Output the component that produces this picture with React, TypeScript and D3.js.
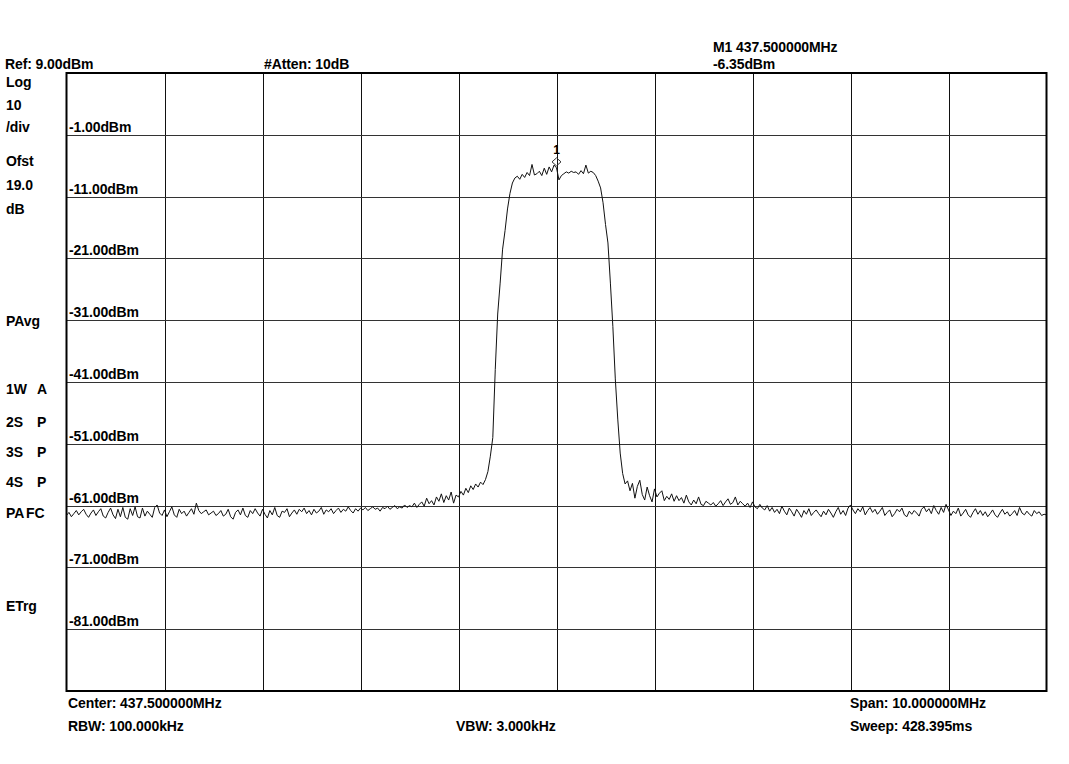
import React from "react";
import * as d3 from "d3";

// sweep: 401 points across the span
const centerMHz = 437.5;
const spanMHz = 10;
const refDbm = 9;
const dbPerDiv = 10;

const levelTicks = [-1, -11, -21, -31, -41, -51, -61, -71, -81];

// trace values in dBm, split by sweep region
const noiseLeft = [
  -62.6, -62.1, -62.8, -62.3, -61.8, -62.5, -62.0, -61.6, -62.4, -62.9, -62.2, -61.7, -62.6, -62.0, -61.5, -62.7, -63.0, -62.1, -61.4, -62.5,
  -63.1, -61.6, -62.8, -61.3, -62.9, -63.2, -61.5, -62.6, -61.2, -62.8, -63.0, -61.4, -62.7, -61.9, -62.4, -62.9, -61.3, -60.9, -62.2, -62.6,
  -61.7, -62.8, -62.0, -61.2, -62.5, -62.9, -61.6, -62.3, -61.9, -62.7, -62.1, -61.5, -62.4, -60.6, -61.8, -62.3, -62.0, -61.7, -62.5, -62.2,
  -61.9, -62.6, -62.3, -61.8, -62.7, -62.4, -61.6, -62.8, -63.2, -62.1, -61.7, -62.5, -61.4, -62.6, -62.9, -61.8, -62.3, -61.5, -62.2, -62.7,
  -61.6, -62.4, -63.0, -61.8, -62.5, -61.3, -62.6, -62.9, -61.9, -62.1, -61.5, -62.8, -62.2, -61.7, -62.4, -61.6, -62.0, -61.4, -62.3, -61.8,
  -62.5, -61.6, -62.2, -61.9, -61.3, -62.4, -61.7, -62.0, -61.5, -62.3, -61.8, -61.4, -62.1, -61.6, -61.9, -61.2, -61.8, -62.2, -61.5, -61.9,
  -61.4, -61.7, -61.3, -61.8, -61.5, -61.2, -61.6, -61.4, -61.9, -61.3, -61.5, -61.1, -61.6, -61.3, -61.0, -61.5, -61.2, -61.4, -60.9, -61.3,
  -61.0, -61.2, -60.6, -61.3, -60.8, -60.4, -61.1, -59.8, -60.7, -60.2, -60.9, -59.6, -60.3, -59.1, -60.5, -59.4, -60.1, -58.8, -60.6, -59.3,
  -59.6, -58.7, -59.3, -58.2, -58.9, -57.8, -58.4, -57.5, -58.0,
];

const channel = [
  // lower skirt
  -57.2, -57.6, -56.8, -55.5, -53.0, -50.0, -39.0, -30.0, -25.0, -19.5, -16.5, -13.0, -10.5,
  // top of channel
  -8.8, -8.0, -7.7, -8.2, -7.4, -7.9, -7.1, -7.6, -5.8, -7.5,
  -7.3, -6.9, -7.6, -6.4, -7.4, -6.2, -7.0, -5.9, -6.35, -8.3,
  -7.6, -7.3, -7.0, -7.2, -6.9, -7.1, -7.0, -7.4, -6.8, -7.3,
  -5.9, -7.2, -6.9, -7.1, -7.6, -8.5,
  // upper skirt
  -9.6, -12.0, -15.5, -18.5, -25.0, -32.0, -40.5, -47.0, -52.5, -55.8, -57.5,
];

const noiseRight = [
  -57.0, -58.6, -57.4, -59.8, -57.9, -56.9, -59.2, -60.1, -58.0, -59.4, -60.4, -58.3, -59.6, -59.0, -58.6, -60.2, -59.5, -60.0, -59.1, -60.3, -59.4,
  -60.2, -59.7, -60.6, -59.3, -60.4, -60.9, -60.1, -60.7, -59.6, -60.8, -61.0, -60.3, -60.6, -60.9, -60.5, -61.1, -60.7, -60.2, -61.0, -60.4,
  -59.9, -60.8, -60.5, -59.6, -60.9, -60.3, -60.7, -61.1, -60.6, -61.3, -60.4, -61.2, -61.5, -60.8, -61.4, -61.7, -61.0, -61.9, -61.3, -62.1,
  -61.6, -62.3, -61.1, -61.9, -62.5, -61.4, -62.0, -62.7, -61.6, -62.2, -62.9, -61.8, -62.4, -61.5, -62.6, -62.1, -61.7, -62.3, -62.8, -61.9,
  -62.5, -61.6, -62.2, -62.9, -62.0, -61.3, -62.4, -61.8, -62.6, -61.4, -60.9, -61.7, -62.3, -61.5, -62.0, -61.2, -62.5, -61.8, -61.3, -62.1,
  -61.6, -62.4, -61.9, -61.3, -62.6, -62.1, -61.7, -62.8, -62.3, -61.6, -62.0, -61.4, -62.5, -62.8, -61.9, -62.4, -61.8, -62.2, -62.7, -61.6,
  -61.2, -62.0, -61.5, -62.3, -61.0, -61.8, -62.4, -61.3, -62.1, -60.8, -61.7, -62.6, -61.9, -62.3, -61.4, -62.7, -62.2, -61.6, -62.5, -62.9,
  -62.1, -61.5, -62.4, -61.8, -62.6, -62.0, -62.8, -62.3, -61.7, -62.5, -62.9, -62.2, -61.6, -62.4, -62.0, -62.7, -62.3, -61.8, -62.6, -61.3,
  -62.2, -62.5, -61.9, -62.4, -62.7, -61.8, -62.3, -62.0, -62.6, -62.4, -62.5,
];

const markerMHz = 437.5;
const markerDbm = -6.35;

const leftNotes = [
  { t: "Log", y: 87 }, { t: "10", y: 110 }, { t: "/div", y: 132 },
  { t: "Ofst", y: 166 }, { t: "19.0", y: 190 }, { t: "dB", y: 214 },
  { t: "PAvg", y: 326 }, { t: "ETrg", y: 611 },
];
const stateNotes = [
  { a: "1W", b: "A", y: 394 }, { a: "2S", b: "P", y: 427 },
  { a: "3S", b: "P", y: 457 }, { a: "4S", b: "P", y: 487 },
  { a: "PA", b: "FC", y: 518 },
];

const W = 1069;
const H = 764;
const plot = { left: 66.5, right: 1046.5, top: 73, bottom: 691 };

export default function App() {
  const trace = [...noiseLeft, ...channel, ...noiseRight];
  const n = trace.length;
  const fStart = centerMHz - spanMHz / 2;
  const fStop = centerMHz + spanMHz / 2;
  const bottomDbm = refDbm - dbPerDiv * 10;

  const x = d3.scaleLinear().domain([fStart, fStop]).range([plot.left, plot.right]);
  const y = d3.scaleLinear().domain([bottomDbm, refDbm]).range([plot.bottom, plot.top]);

  const line = d3
    .line<number>()
    .x((_, i) => x(fStart + (i * spanMHz) / (n - 1)))
    .y((d) => y(d));

  const vGrid = d3.range(1, 10).map((k) => fStart + k * (spanMHz / 10));
  const hGrid = d3.range(1, 10).map((k) => refDbm - k * dbPerDiv);

  const font = {
    fontFamily: "'Liberation Sans', Arial, sans-serif",
    fontWeight: 700,
    fontSize: 14,
    letterSpacing: -0.1,
    fill: "#000",
  } as React.CSSProperties;

  const mx = x(markerMHz);
  const my = y(markerDbm) - 6;

  return (
    <div style={{ position: "fixed", left: 0, top: 0, background: "#fff" }}>
      <svg width={W} height={H} style={{ display: "block" }}>
        <rect width={W} height={H} fill="#fff" />
        {vGrid.map((f) => (
          <line key={"v" + f} x1={Math.round(x(f)) + 0.5} x2={Math.round(x(f)) + 0.5} y1={plot.top} y2={plot.bottom} stroke="#111" strokeWidth={1} />
        ))}
        {hGrid.map((d) => (
          <line key={"h" + d} x1={plot.left} x2={plot.right} y1={Math.round(y(d)) + 0.5} y2={Math.round(y(d)) + 0.5} stroke="#333" strokeWidth={1} />
        ))}
        <rect x={plot.left} y={plot.top} width={plot.right - plot.left} height={plot.bottom - plot.top} fill="none" stroke="#000" strokeWidth={2} />

        {levelTicks.map((d) => (
          <text key={"l" + d} x={69} y={Math.round(y(d)) - 3} style={font}>
            {d.toFixed(2)}dBm
          </text>
        ))}

        <path d={line(trace) ?? ""} fill="none" stroke="#111" strokeWidth={1} strokeLinejoin="round" />

        {/* marker 1 */}
        <path d={`M${mx},${my - 4} L${mx + 4.5},${my} L${mx},${my + 4} L${mx - 4.5},${my} Z`} fill="none" stroke="#333" strokeWidth={1} />
        <text x={mx} y={my - 8} textAnchor="middle" style={{ ...font, fontSize: 12 }}>1</text>

        <text x={5} y={69} style={font}>Ref: 9.00dBm</text>
        <text x={264} y={69} style={font}>#Atten: 10dB</text>
        <text x={713} y={52} style={font}>M1 437.500000MHz</text>
        <text x={713} y={69} style={font}>-6.35dBm</text>

        {leftNotes.map((d) => (
          <text key={d.t} x={6} y={d.y} style={font}>{d.t}</text>
        ))}
        {stateNotes.map((d) => (
          <g key={d.a}>
            <text x={6} y={d.y} style={font}>{d.a}</text>
            <text x={d.b === "FC" ? 26 : 37} y={d.y} style={font}>{d.b}</text>
          </g>
        ))}

        <text x={68} y={708} style={font}>Center: 437.500000MHz</text>
        <text x={68} y={731} style={font}>RBW: 100.000kHz</text>
        <text x={456} y={731} style={font}>VBW: 3.000kHz</text>
        <text x={850} y={708} style={font}>Span: 10.000000MHz</text>
        <text x={850} y={731} style={font}>Sweep: 428.395ms</text>
      </svg>
    </div>
  );
}
